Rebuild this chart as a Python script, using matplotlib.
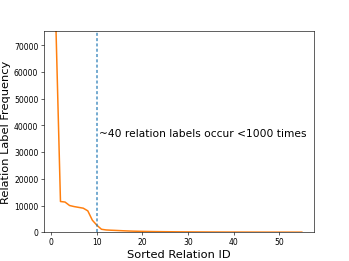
import matplotlib
matplotlib.use('Agg')
import matplotlib.pyplot as plt

# frequency per sorted relation id
relation_ids = list(range(1, 56))
frequencies = [77000, 11500, 11300, 10000, 9600, 9300, 9000, 8000, 4500, 2600,
               1100, 850, 750, 680, 600, 520, 450, 390, 350, 310,
               280, 250, 225, 205, 185, 170, 155, 140, 128, 118,
               108, 100, 92, 85, 78, 72, 66, 61, 56, 52,
               48, 44, 41, 38, 35, 32, 30, 28, 26, 24,
               22, 20, 18, 16, 14]
cutoff = 10
note = '~40 relation labels occur <1000 times'

dpi = 349 / 6.4
fig, ax = plt.subplots(figsize=(6.4, 4.8), dpi=dpi)
ax.plot(relation_ids, frequencies, color='C1', linewidth=2)
ax.axvline(cutoff, color='C0', linestyle=(0, (2.0, 1.5)), linewidth=2, alpha=0.8)
ax.set_ylim(0, 75500)
ax.text(cutoff + 0.5, 37000, note, fontsize=14, va='center')
ax.set_xlabel('Sorted Relation ID', fontsize=15)
ax.set_ylabel('Relation Label Frequency', fontsize=15)
fig.savefig('out.png', dpi=dpi)
